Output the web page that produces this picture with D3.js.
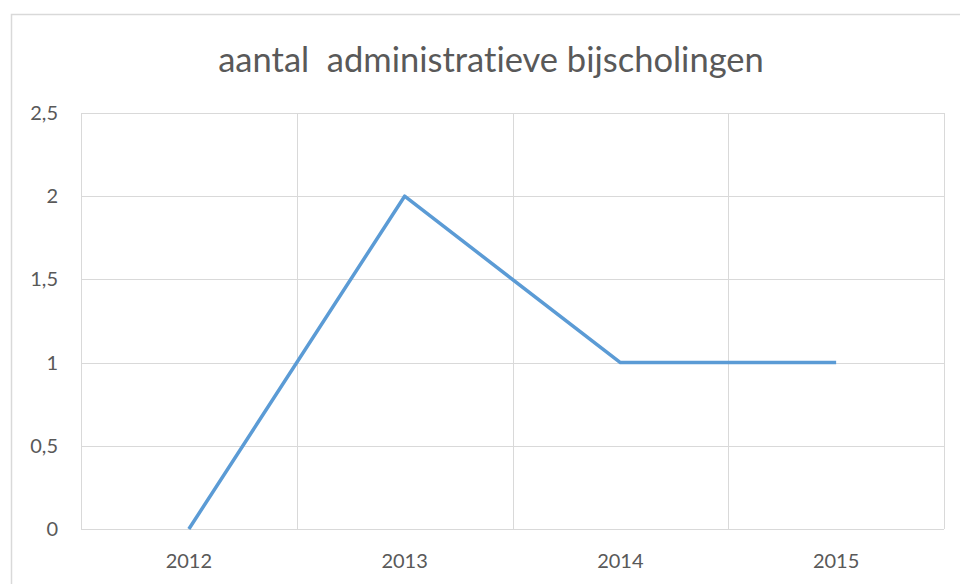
<!DOCTYPE html>
<html>
<head>
<meta charset="utf-8">
<script src="https://cdn.jsdelivr.net/npm/d3@7"></script>
<style>
  body { margin: 0; background: #fff; }
  svg text { font-family: Lato, "Open Sans", sans-serif; fill: #595959; font-variant-ligatures: none; }
</style>
</head>
<body>
<div id="chart"></div>
<script>
var years = ['2012', '2013', '2014', '2015'];
var counts = [0, 2, 1, 1];
var yTicks = [0, 0.5, 1, 1.5, 2, 2.5];
var title = 'aantal  administratieve bijscholingen';

var frame = { width: 960, height: 584 },
  margin = { top: 113, right: 16, bottom: 55, left: 81 },
  width = frame.width - margin.left - margin.right,
  height = frame.height - margin.top - margin.bottom;

var svg = d3.select('#chart').append('svg')
  .attr('width', frame.width)
  .attr('height', frame.height);

// chart border (cropped on right and bottom)
svg.append('path')
  .attr('d', 'M11.5,' + frame.height + 'V14.5H' + frame.width)
  .attr('fill', 'none')
  .attr('stroke', '#d9d9d9')
  .attr('stroke-width', 1.5);

svg.append('text')
  .attr('x', 491)
  .attr('y', 72)
  .attr('text-anchor', 'middle')
  .style('font-size', '34.5px')
  .style('white-space', 'pre')
  .attr('xml:space', 'preserve')
  .text(title);

var g = svg.append('g')
  .attr('transform', 'translate(' + margin.left + ',' + margin.top + ')');

var x = d3.scaleBand().domain(years).range([0, width]);
var y = d3.scaleLinear().domain([0, 2.5]).range([height, 0]);

var fmt = function (d) { return String(d).replace('.', ','); };

//horizontal gridlines
g.selectAll('.hgrid')
  .data(yTicks)
  .enter().append('line')
  .attr('class', 'hgrid')
  .attr('x1', 0).attr('x2', width)
  .attr('y1', function (d) { return Math.round(y(d)) + 0.5; })
  .attr('y2', function (d) { return Math.round(y(d)) + 0.5; })
  .attr('stroke', '#d9d9d9');

//vertical gridlines between categories
var bounds = years.map(function (d) { return x(d); }).concat([width]);
g.selectAll('.vgrid')
  .data(bounds)
  .enter().append('line')
  .attr('class', 'vgrid')
  .attr('y1', 0).attr('y2', height)
  .attr('x1', function (d) { return Math.round(d) + 0.5; })
  .attr('x2', function (d) { return Math.round(d) + 0.5; })
  .attr('stroke', '#d9d9d9');

// y labels
g.selectAll('.ylab')
  .data(yTicks)
  .enter().append('text')
  .attr('class', 'ylab')
  .attr('x', -23)
  .attr('y', function (d) { return y(d); })
  .attr('dy', '0.35em')
  .attr('text-anchor', 'end')
  .style('font-size', '20px')
  .text(fmt);

// x labels
g.selectAll('.xlab')
  .data(years)
  .enter().append('text')
  .attr('class', 'xlab')
  .attr('x', function (d) { return x(d) + x.bandwidth() / 2; })
  .attr('y', height + 32)
  .attr('dy', '0.35em')
  .attr('text-anchor', 'middle')
  .style('font-size', '20px')
  .text(function (d) { return d; });

var line = d3.line()
  .x(function (d, i) { return x(years[i]) + x.bandwidth() / 2; })
  .y(function (d) { return y(d); });

g.append('path')
  .datum(counts)
  .attr('d', line)
  .attr('fill', 'none')
  .attr('stroke', '#5b9bd5')
  .attr('stroke-width', 3.5)
  .attr('stroke-linejoin', 'round');
</script>
</body>
</html>
